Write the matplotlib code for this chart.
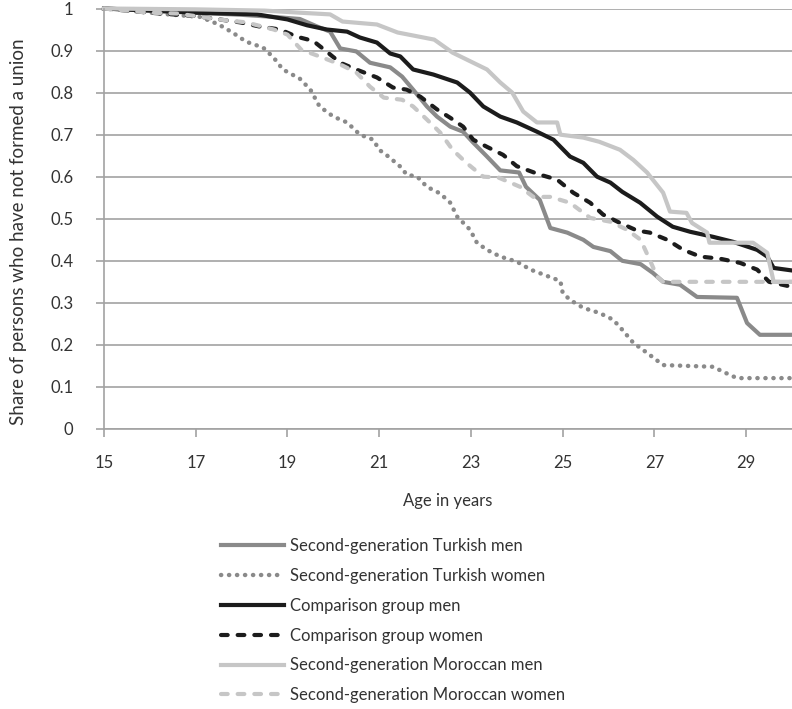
import numpy as np
import matplotlib
matplotlib.use("Agg")
import matplotlib.pyplot as plt
from matplotlib.ticker import FixedLocator, FuncFormatter

plt.rcParams['font.family'] = ['Lato', 'DejaVu Sans']

# ages (years) and share still without a union, per group
tm_age = [15, 16, 17, 18, 18.7, 19.27, 19.65, 19.93, 20.15, 20.5, 20.8, 21.24, 21.5,
          21.74, 22.04, 22.26, 22.55, 22.83, 23.05, 23.35, 23.64, 24.05, 24.2, 24.5,
          24.73, 25.1, 25.45, 25.67, 26.04, 26.3, 26.7, 26.97, 27.19, 27.56, 27.93,
          28.8, 29.02, 29.3, 30]
tm_val = [1.0, 0.995, 0.99, 0.985, 0.98, 0.975, 0.957, 0.945, 0.905, 0.898, 0.871,
          0.86, 0.838, 0.807, 0.767, 0.743, 0.719, 0.707, 0.681, 0.648, 0.615, 0.61,
          0.576, 0.545, 0.478, 0.467, 0.45, 0.433, 0.423, 0.4, 0.392, 0.371, 0.35,
          0.343, 0.314, 0.312, 0.252, 0.224, 0.224]

tw_age = [15, 15.35, 16.4, 17.1, 17.5, 17.8, 18.1, 18.47, 18.7, 18.9, 19.27, 19.5,
          19.7, 20.0, 20.3, 20.58, 20.87, 21.0, 21.2, 21.46, 21.6, 21.83, 22.04, 22.33,
          22.55, 22.7, 22.98, 23.13, 23.35, 23.64, 24.0, 24.3, 24.66, 24.95, 25.0,
          25.16, 25.45, 25.8, 26.1, 26.3, 26.54, 26.84, 27.19, 28.28, 28.5, 28.8, 30]
tw_val = [1.0, 0.997, 0.986, 0.98, 0.962, 0.943, 0.921, 0.907, 0.883, 0.855, 0.833,
          0.807, 0.767, 0.743, 0.729, 0.70, 0.688, 0.664, 0.648, 0.624, 0.605, 0.60,
          0.576, 0.56, 0.538, 0.505, 0.474, 0.443, 0.426, 0.41, 0.398, 0.379, 0.364,
          0.352, 0.324, 0.307, 0.288, 0.276, 0.26, 0.236, 0.205, 0.181, 0.152, 0.148,
          0.136, 0.121, 0.121]

cm_age = [15, 16, 17, 18.34, 19.0, 19.43, 19.86, 20.3, 20.58, 20.95, 21.24, 21.46,
          21.74, 22.18, 22.7, 22.98, 23.27, 23.64, 24.0, 24.44, 24.8, 25.16, 25.45,
          25.75, 26.04, 26.3, 26.69, 27.06, 27.4, 27.78, 28.28, 28.72, 29.24, 29.46,
          29.6, 30]
cm_val = [1.0, 0.995, 0.99, 0.986, 0.974, 0.96, 0.95, 0.945, 0.931, 0.919, 0.893,
          0.886, 0.855, 0.843, 0.824, 0.80, 0.767, 0.743, 0.729, 0.707, 0.688, 0.648,
          0.633, 0.60, 0.586, 0.564, 0.538, 0.505, 0.481, 0.469, 0.457, 0.445, 0.426,
          0.41, 0.383, 0.377]

cw_age = [15, 16, 17, 17.97, 18.4, 18.84, 19.2, 19.56, 19.86, 20.15, 20.5, 20.95,
          21.3, 21.6, 21.9, 22.26, 22.55, 22.83, 23.05, 23.35, 23.7, 24.0, 24.5, 24.88,
          25.23, 25.6, 25.88, 26.25, 26.62, 26.9, 27.28, 27.63, 28.0, 28.43, 28.87,
          29.24, 29.5, 30]
cw_val = [1.0, 0.99, 0.982, 0.967, 0.957, 0.95, 0.933, 0.923, 0.897, 0.871, 0.855,
          0.836, 0.812, 0.807, 0.79, 0.76, 0.74, 0.719, 0.688, 0.671, 0.652, 0.625,
          0.605, 0.593, 0.562, 0.538, 0.51, 0.49, 0.472, 0.467, 0.45, 0.426, 0.41,
          0.405, 0.395, 0.379, 0.35, 0.338]

mm_age = [15, 17, 18.5, 19.27, 19.93, 20.2, 20.95, 21.4, 22.2, 22.6, 22.9, 23.35,
          23.64, 23.9, 24.14, 24.44, 24.88, 24.95, 25.45, 25.8, 26.25, 26.54, 26.84,
          27.19, 27.34, 27.7, 27.82, 28.15, 28.2, 29.15, 29.46, 29.6, 30]
mm_val = [1.0, 0.998, 0.995, 0.99, 0.986, 0.969, 0.962, 0.943, 0.926, 0.895, 0.879,
          0.855, 0.824, 0.80, 0.755, 0.729, 0.729, 0.70, 0.693, 0.683, 0.664, 0.64,
          0.61, 0.562, 0.517, 0.514, 0.49, 0.467, 0.443, 0.443, 0.419, 0.35, 0.35]

mw_age = [15, 16, 16.6, 17.5, 18.1, 18.7, 19.0, 19.3, 19.7, 20.15, 20.5, 20.8, 21.1,
          21.5, 21.74, 22.04, 22.33, 22.6, 22.9, 23.27, 23.6, 24.07, 24.36, 24.73,
          25.16, 25.6, 26.04, 26.4, 26.7, 26.9, 27.06, 27.19, 30]
mw_val = [1.0, 0.99, 0.988, 0.974, 0.967, 0.95, 0.938, 0.902, 0.886, 0.867, 0.848,
          0.814, 0.788, 0.783, 0.767, 0.736, 0.705, 0.664, 0.633, 0.60, 0.598, 0.576,
          0.552, 0.552, 0.538, 0.502, 0.493, 0.474, 0.45, 0.402, 0.362, 0.35, 0.35]

labels = ['Second-generation Turkish men', 'Second-generation Turkish women',
          'Comparison group men', 'Comparison group women',
          'Second-generation Moroccan men', 'Second-generation Moroccan women']

fig = plt.figure(figsize=(7.92, 7.09), dpi=100)
ax = fig.add_axes([104/792, 1 - 429/709, 1 - 104/792, (429 - 8.5)/709])

mid = '#8a8a8a'
dark = '#1c1c1c'
light = '#c6c6c6'
dash = (0, (1.6, 2.4))

ax.plot(tm_age, tm_val, color=mid, lw=3, label=labels[0], clip_on=False)
ax.plot(tw_age, tw_val, color=mid, lw=3.2, linestyle=(0, (0.05, 1.75)),
        dash_capstyle='round', label=labels[1], clip_on=False)
ax.plot(cm_age, cm_val, color=dark, lw=3, label=labels[2], clip_on=False)
ax.plot(cw_age, cw_val, color=dark, lw=3, linestyle=dash,
        dash_capstyle='round', label=labels[3], clip_on=False)
ax.plot(mm_age, mm_val, color=light, lw=3, label=labels[4], clip_on=False)
ax.plot(mw_age, mw_val, color=light, lw=3, linestyle=dash,
        dash_capstyle='round', label=labels[5], clip_on=False)

ax.set_xlim(15, 30)
ax.set_ylim(0, 1)
ax.xaxis.set_major_locator(FixedLocator(np.arange(15, 30, 2)))
ax.yaxis.set_major_locator(FixedLocator(np.arange(0, 1.01, 0.1)))
ax.yaxis.set_major_formatter(FuncFormatter(lambda v, p: '0' if v < 0.01 else ('1' if v > 0.99 else '%.1f' % v)))
ax.grid(axis='y', color='#a2a2a2', lw=1.2)
ax.set_axisbelow(True)
for s in ['top', 'right']:
    ax.spines[s].set_visible(False)
for s in ['left', 'bottom']:
    ax.spines[s].set_color('#a2a2a2')
    ax.spines[s].set_linewidth(1.2)
ax.tick_params(colors='#a2a2a2', width=1.2, length=6, labelcolor='#333333',
               labelsize=12)
ax.tick_params(axis='x', pad=13)
ax.tick_params(axis='y', pad=16)

ax.set_xlabel('Age in years', fontsize=12, color='#333333')
ax.set_ylabel('Share of persons who have not formed a union', fontsize=13.5,
              color='#333333')
ax.xaxis.set_label_coords(0.5, -0.152)
ax.yaxis.set_label_coords(-0.112, 0.47)

fig.legend(loc='upper left', bbox_to_anchor=(221/792, 1 - 538/709), frameon=False,
           fontsize=12, handlelength=3.8, handletextpad=0.36, labelspacing=0.83,
           borderpad=0, borderaxespad=0, labelcolor='#333333')

fig.savefig('out.png', dpi=100)
